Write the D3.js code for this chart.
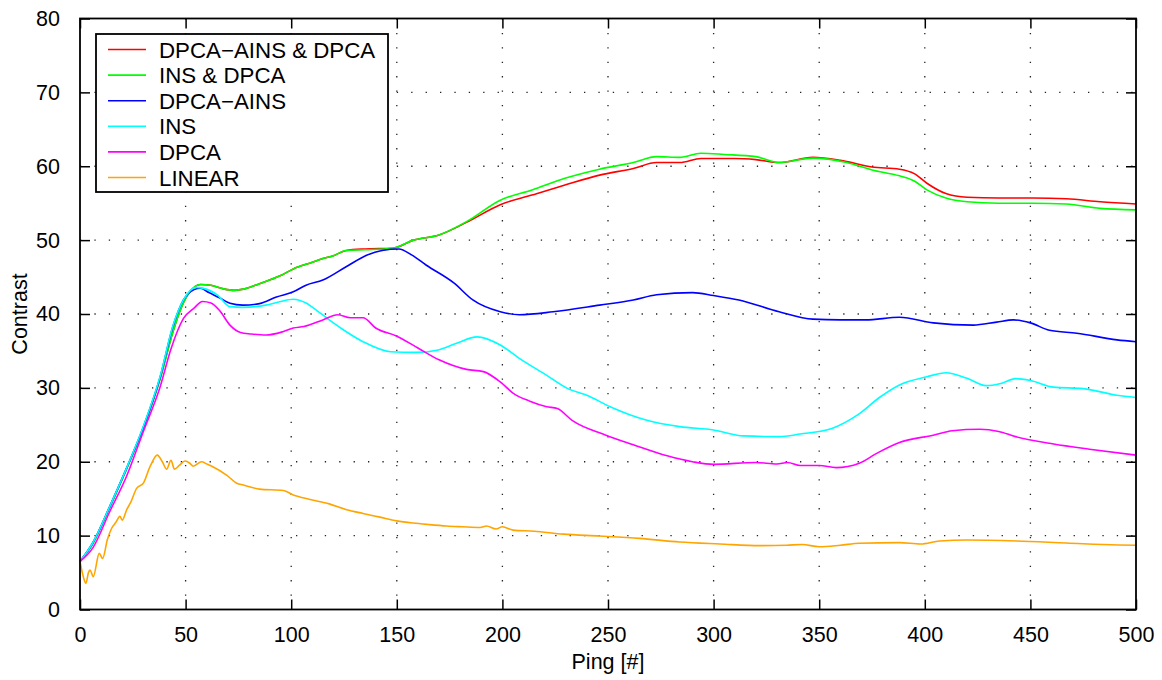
<!DOCTYPE html>
<html>
<head>
<meta charset="utf-8">
<script src="https://cdn.jsdelivr.net/npm/d3@7"></script>
<style>
  body { margin: 0; background: #fff; }
  svg { font-family: "Liberation Sans", Arial, Helvetica, sans-serif; }
</style>
</head>
<body>
<svg id="contrastChart" width="1162" height="680"></svg>
<script>
// Series data: [ping, contrast] pairs
const dpcaAinsDpca = [[0,6.5],[6,8.9],[14,13.8],[22,19],[30,24.6],[38,31.3],[44,37.6],[48,40.9],[52,43],[57,44],[62,43.9],[68,43.4],[73,43.2],[78,43.4],[85,44.1],[95,45.2],[101,46.1],[110,47],[115,47.5],[120,47.9],[126,48.6],[135,48.8],[148,48.9],[158,50],[170,50.7],[183,52.4],[199,54.8],[214,56.1],[230,57.5],[246,58.8],[262,59.7],[273,60.5],[284,60.5],[294,61.05],[310,61.05],[320,60.9],[331,60.5],[347,61.2],[360,60.8],[375,59.9],[388,59.6],[395,59],[401,57.7],[410,56.3],[420,55.8],[435,55.7],[451,55.7],[467,55.6],[483,55.2],[500,54.9]];
const insDpca = [[0,6.5],[6,8.9],[14,13.8],[22,19],[30,24.6],[38,31.3],[44,37.6],[48,40.9],[52,43],[57,44],[62,43.9],[68,43.4],[73,43.2],[78,43.4],[85,44.1],[95,45.2],[101,46.1],[110,47],[115,47.5],[120,47.9],[126,48.6],[135,48.7],[148,48.9],[158,50],[170,50.7],[183,52.5],[199,55.4],[214,56.8],[230,58.4],[246,59.6],[262,60.5],[273,61.3],[284,61.2],[294,61.75],[305,61.6],[320,61.3],[331,60.5],[347,61.1],[363,60.5],[375,59.5],[388,58.7],[395,58],[401,56.8],[410,55.7],[420,55.2],[435,55],[451,55],[467,54.9],[483,54.3],[500,54.1]];
const dpcaAins = [[0,6.5],[6,9],[14,13.9],[22,19.1],[30,24.7],[38,31.5],[44,38.3],[49,41.9],[54,43.3],[57,43.5],[61,42.9],[66,42.2],[71,41.45],[77,41.2],[85,41.4],[93,42.3],[101,43],[107,43.9],[115,44.6],[126,46.4],[136,48],[143,48.6],[151,48.8],[157,48],[164,46.6],[177,44.2],[186,41.9],[199,40.3],[208,39.9],[224,40.3],[246,41.2],[262,41.9],[273,42.6],[290,42.9],[300,42.5],[312,41.9],[331,40.3],[347,39.3],[360,39.2],[372,39.2],[388,39.55],[404,38.8],[423,38.5],[434,38.9],[442,39.2],[450,38.8],[459,37.8],[472,37.4],[491,36.5],[500,36.25]];
const ins = [[0,6.5],[6,9],[14,13.9],[22,19.1],[30,24.8],[38,31.6],[44,38.4],[49,41.9],[55,43.6],[58,43.5],[65,42.6],[71,41],[77,40.9],[88,41.2],[95,41.7],[101,42],[107,41.5],[112,40.5],[118,39.2],[125,37.8],[134,36.25],[147,34.9],[159,34.8],[169,35.1],[178,36],[188,36.9],[199,35.8],[208,34],[221,31.7],[231,29.9],[240,29],[251,27.45],[268,25.65],[284,24.75],[300,24.3],[314,23.5],[331,23.4],[341,23.75],[356,24.5],[368,26.3],[379,28.8],[388,30.4],[401,31.5],[410,32.05],[420,31.3],[429,30.3],[436,30.6],[443,31.25],[450,31],[461,30.1],[475,29.9],[491,29],[500,28.7]];
const dpca = [[0,6.5],[6,8.3],[14,13.2],[22,18],[30,24.1],[38,30.2],[43,35.2],[49,39.4],[54,40.8],[58,41.7],[62,41.5],[66,40.5],[71,38.5],[76,37.5],[81,37.3],[88,37.15],[96,37.6],[101,38.1],[106,38.3],[115,39.2],[122,39.9],[128,39.5],[134,39.5],[140,38.1],[150,37],[160,35.4],[170,33.8],[183,32.5],[191,32.2],[199,30.8],[205,29.3],[213,28.2],[221,27.45],[226,27.2],[233,25.6],[249,23.6],[262,22.3],[278,20.8],[290,20],[300,19.65],[320,19.9],[330,19.7],[335,19.9],[341,19.5],[350,19.5],[358,19.2],[369,19.8],[377,21.1],[388,22.6],[404,23.6],[413,24.2],[426,24.4],[435,24.1],[443,23.4],[461,22.4],[478,21.7],[500,20.9]];
const linear = [[0,6.5],[1.5,4.5],[2.8,3.55],[4,5],[4.7,5.35],[6.3,4.45],[9.1,7.6],[10.7,6.9],[13,9.5],[15,11],[17,11.8],[18.9,12.6],[20,12.1],[22.1,13.5],[24,14.5],[26.8,16.4],[30,17.1],[33.1,19.3],[36.6,20.9],[39,20],[41,19],[43.1,20.2],[44.7,19],[47,19.5],[49.7,20.1],[52,19.8],[53.6,19.4],[57.6,20],[60,19.7],[63.1,19.3],[69.4,18.2],[74.2,17.1],[77.3,16.85],[85,16.3],[96.3,16.1],[101,15.5],[109,14.9],[118,14.3],[126.3,13.5],[134,13],[142,12.5],[150,12],[157.8,11.7],[165,11.5],[173.6,11.3],[181,11.2],[189.4,11.1],[192.5,11.3],[197,10.9],[200,11.2],[205,10.75],[215,10.6],[228.8,10.2],[246,9.95],[265,9.63],[284,9.14],[303,8.87],[322,8.64],[334.6,8.7],[342,8.8],[350,8.5],[360,8.7],[369,8.96],[388,9.05],[398,8.87],[407,9.27],[420,9.4],[443.5,9.27],[467,9.0],[491.5,8.73],[500,8.7]];

const seriesNames = ["DPCA\u2212AINS & DPCA", "INS & DPCA", "DPCA\u2212AINS", "INS", "DPCA", "LINEAR"];
const seriesColors = ["#ff0000", "#00ff00", "#0000ff", "#00ffff", "#ff00ff", "#ffa500"];
const seriesData = [dpcaAinsDpca, insDpca, dpcaAins, ins, dpca, linear];

const xTicks = [0, 50, 100, 150, 200, 250, 300, 350, 400, 450, 500];
const yTicks = [0, 10, 20, 30, 40, 50, 60, 70, 80];

const svg = d3.select("#contrastChart");
const margin = {top: 18.5, right: 26, bottom: 70.5, left: 80};
const width = +svg.attr("width") - margin.left - margin.right;
const height = +svg.attr("height") - margin.top - margin.bottom;
const g = svg.append("g").attr("transform", "translate(" + margin.left + "," + margin.top + ")");

const x = d3.scaleLinear().domain([0, 500]).range([0, width]);
const y = d3.scaleLinear().domain([0, 80]).range([height, 0]);

// dotted grid
g.append("g")
    .selectAll("line")
    .data(xTicks.slice(1, -1))
    .join("line")
    .attr("x1", d => x(d)).attr("x2", d => x(d))
    .attr("y1", 0).attr("y2", height)
    .attr("stroke", "#222")
    .attr("stroke-width", 1.3)
    .attr("stroke-dasharray", "1.3,13.1");

g.append("g")
    .selectAll("line")
    .data(yTicks.slice(1, -1))
    .join("line")
    .attr("x1", 0).attr("x2", width)
    .attr("y1", d => y(d)).attr("y2", d => y(d))
    .attr("stroke", "#222")
    .attr("stroke-width", 1.3)
    .attr("stroke-dasharray", "1.3,13.1");

// data lines, legend order (later ones on top)
const line = d3.line()
    .x(d => x(d[0]))
    .y(d => y(d[1]))
    .curve(d3.curveMonotoneX);

seriesData.forEach((data, i) => {
    g.append("path")
        .datum(data)
        .attr("fill", "none")
        .attr("stroke", seriesColors[i])
        .attr("stroke-width", 1.6)
        .attr("stroke-linejoin", "round")
        .attr("d", line);
});

// axes: ticks point inward, on all four sides
const tickLen = 10;
g.append("g")
    .attr("transform", "translate(0," + height + ")")
    .call(d3.axisBottom(x).tickValues(xTicks).tickSize(-tickLen).tickPadding(tickLen + 7));
g.append("g")
    .call(d3.axisLeft(y).tickValues(yTicks).tickSize(-tickLen).tickPadding(tickLen + 10));
g.append("g")
    .call(d3.axisTop(x).tickValues(xTicks).tickSize(-tickLen).tickFormat(""));
g.append("g")
    .attr("transform", "translate(" + width + ",0)")
    .call(d3.axisRight(y).tickValues(yTicks).tickSize(-tickLen).tickFormat(""));

g.selectAll(".domain").remove();
g.selectAll(".tick line").attr("stroke", "#000").attr("stroke-width", 1.5);
g.selectAll(".tick text").attr("font-size", 21.5).attr("fill", "#000")
    .attr("font-family", "'Liberation Sans', Arial, Helvetica, sans-serif");

g.append("rect")
    .attr("x", 0).attr("y", 0)
    .attr("width", width).attr("height", height)
    .attr("fill", "none")
    .attr("stroke", "#000")
    .attr("stroke-width", 1.8);

// axis labels
svg.append("text")
    .attr("x", margin.left + width / 2)
    .attr("y", 669)
    .attr("text-anchor", "middle")
    .attr("font-size", 21.5)
    .text("Ping [#]");

svg.append("text")
    .attr("transform", "translate(27," + (margin.top + height / 2) + ") rotate(-90)")
    .attr("text-anchor", "middle")
    .attr("font-size", 21.5)
    .text("Contrast");

// legend
const legend = svg.append("g").attr("transform", "translate(96,34)");
legend.append("rect")
    .attr("width", 292)
    .attr("height", 158)
    .attr("fill", "#fff")
    .attr("stroke", "#000")
    .attr("stroke-width", 1.8);

const legendItem = legend.selectAll("g.item")
    .data(seriesNames)
    .join("g")
    .attr("class", "item")
    .attr("transform", (d, i) => "translate(0," + (15.5 + i * 25.6) + ")");

legendItem.append("line")
    .attr("x1", 12).attr("x2", 50)
    .attr("stroke", (d, i) => seriesColors[i])
    .attr("stroke-width", 1.6);

legendItem.append("text")
    .attr("x", 63)
    .attr("dy", "0.36em")
    .attr("font-size", 22.3)
    .text(d => d);
</script>
</body>
</html>
